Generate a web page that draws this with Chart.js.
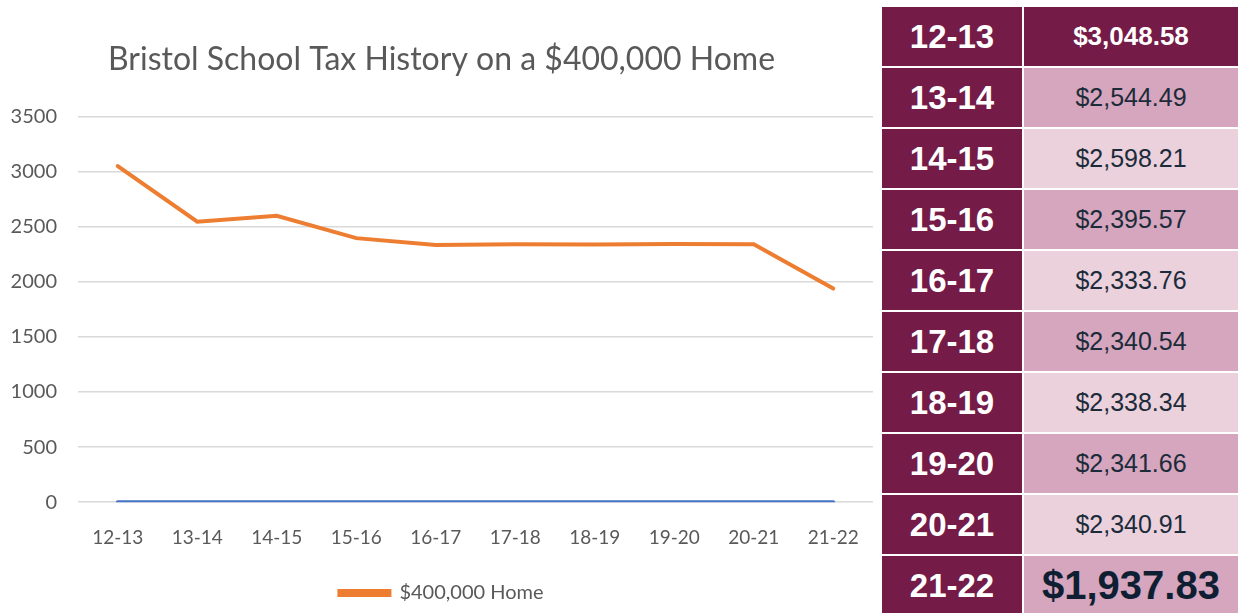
<!DOCTYPE html>
<html>
<head>
<meta charset="utf-8">
<style>
    html, body { margin: 0; padding: 0; background: #fff; }
    #wrap { position: relative; width: 1243px; height: 613px; overflow: hidden; }
    #chart-box { position: absolute; left: 0; top: 0; width: 880px; height: 613px; }
    #tax-table { position: absolute; left: 882px; top: 7px; width: 356px; }
    .row { display: flex; height: 59px; margin-bottom: 2px; }
    .yr { width: 140px; background: #741b47; color: #fff; font: bold 33px "Liberation Sans", Arial, sans-serif;
          display: flex; align-items: center; justify-content: center; }
    .amt { flex: 1; margin-left: 2px; display: flex; align-items: center; justify-content: center;
           font: 25px "Liberation Sans", Arial, sans-serif; color: #1c2b3a; }
</style>
</head>
<body>
<div id="wrap">
    <div id="chart-box"><canvas id="tax-chart"></canvas></div>
    <div id="tax-table"></div>
</div>

<script src="https://cdn.jsdelivr.net/npm/chart.js"></script>

<script>
    const seasons = ['12-13', '13-14', '14-15', '15-16', '16-17', '17-18', '18-19', '19-20', '20-21', '21-22'];
    const homeTax = [3048.58, 2544.49, 2598.21, 2395.57, 2333.76, 2340.54, 2338.34, 2341.66, 2340.91, 1937.83];
    const baseline = [0, 0, 0, 0, 0, 0, 0, 0, 0, 0];
    const yTicks = [0, 500, 1000, 1500, 2000, 2500, 3000, 3500];

    // Table on the right
    const table = document.getElementById('tax-table');
    seasons.forEach((s, i) => {
        const row = document.createElement('div');
        row.className = 'row';
        const yr = document.createElement('div');
        yr.className = 'yr';
        yr.textContent = s;
        const amt = document.createElement('div');
        amt.className = 'amt';
        amt.textContent = '$' + homeTax[i].toLocaleString('en-US', { minimumFractionDigits: 2 });
        if (i === 0) {
            amt.style.background = '#741b47';
            amt.style.color = '#fff';
            amt.style.fontWeight = 'bold';
            amt.style.fontSize = '26px';
        } else {
            amt.style.background = i % 2 ? '#d5a6bd' : '#ead1dc';
        }
        if (i === seasons.length - 1) {
            amt.style.fontWeight = 'bold';
            amt.style.fontSize = '40px';
            amt.style.color = '#0f1f33';
        }
        row.appendChild(yr);
        row.appendChild(amt);
        table.appendChild(row);
    });

    const ctx = document.getElementById('tax-chart');
    new Chart(ctx, {
        type: 'line',
        data: {
            labels: seasons,
            datasets: [
                {
                    label: '$400,000 Home',
                    data: homeTax,
                    borderColor: '#ed7d31',
                    backgroundColor: '#ed7d31',
                    borderWidth: 4,
                    pointRadius: 0,
                    tension: 0,
                    borderCapStyle: 'round'
                },
                {
                    label: 'base',
                    data: baseline,
                    borderColor: '#4472c4',
                    backgroundColor: '#4472c4',
                    borderWidth: 4,
                    pointRadius: 0,
                    borderCapStyle: 'round'
                }
            ]
        },
        options: {
            responsive: true,
            maintainAspectRatio: false,
            animation: false,
            layout: { padding: { left: 10, right: 7, top: 0, bottom: 0 } },
            plugins: {
                title: {
                    display: true,
                    text: 'Bristol School Tax History on a $400,000 Home',
                    color: '#595959',
                    font: { family: 'Lato', size: 32, weight: 'normal' },
                    padding: { top: 40, bottom: 38 }
                },
                legend: {
                    position: 'bottom',
                    labels: {
                        filter: (item) => item.datasetIndex === 0,
                        color: '#595959',
                        font: { family: 'Lato', size: 20 },
                        boxWidth: 50,
                        boxHeight: 4,
                        padding: 18
                    }
                },
                tooltip: { enabled: false }
            },
            scales: {
                x: {
                    offset: true,
                    grid: { display: false },
                    border: { display: false },
                    ticks: { color: '#595959', font: { family: 'Lato', size: 19 }, padding: 16, maxRotation: 0 }
                },
                y: {
                    min: 0,
                    max: 3500,
                    afterBuildTicks: (axis) => { axis.ticks = yTicks.map(v => ({ value: v })); },
                    afterFit: (axis) => { axis.width = 68; },
                    grid: { color: '#d9d9d9', lineWidth: 1.5, drawTicks: false },
                    border: { display: false },
                    ticks: {
                        color: '#595959',
                        font: { family: 'Lato', size: 20 },
                        padding: 21,
                        callback: (value) => String(value)
                    }
                }
            }
        }
    });
</script>
</body>
</html>
